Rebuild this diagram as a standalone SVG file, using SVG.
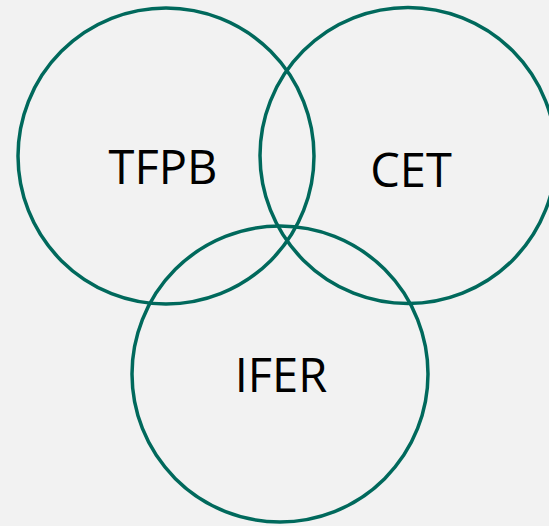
<svg xmlns="http://www.w3.org/2000/svg" width="549" height="526" viewBox="0 0 549 526">
<style>
.c{fill:none;stroke:#00695c;stroke-width:3.5}
.t{font-family:"Open Sans","Noto Sans",sans-serif;font-size:47px;fill:#000;text-anchor:middle}
</style>
<rect width="549" height="526" fill="#f2f2f2"/>
<g id="connectors"/>
<g id="tfpb"><circle class="c" cx="166" cy="156" r="148"/><text class="t" x="163" y="184">TFPB</text></g>
<g id="cet"><circle class="c" cx="408" cy="155.5" r="148"/><text class="t" x="411" y="187">CET</text></g>
<g id="ifer"><circle class="c" cx="280" cy="374" r="148"/><text class="t" x="281" y="392">IFER</text></g>
</svg>
